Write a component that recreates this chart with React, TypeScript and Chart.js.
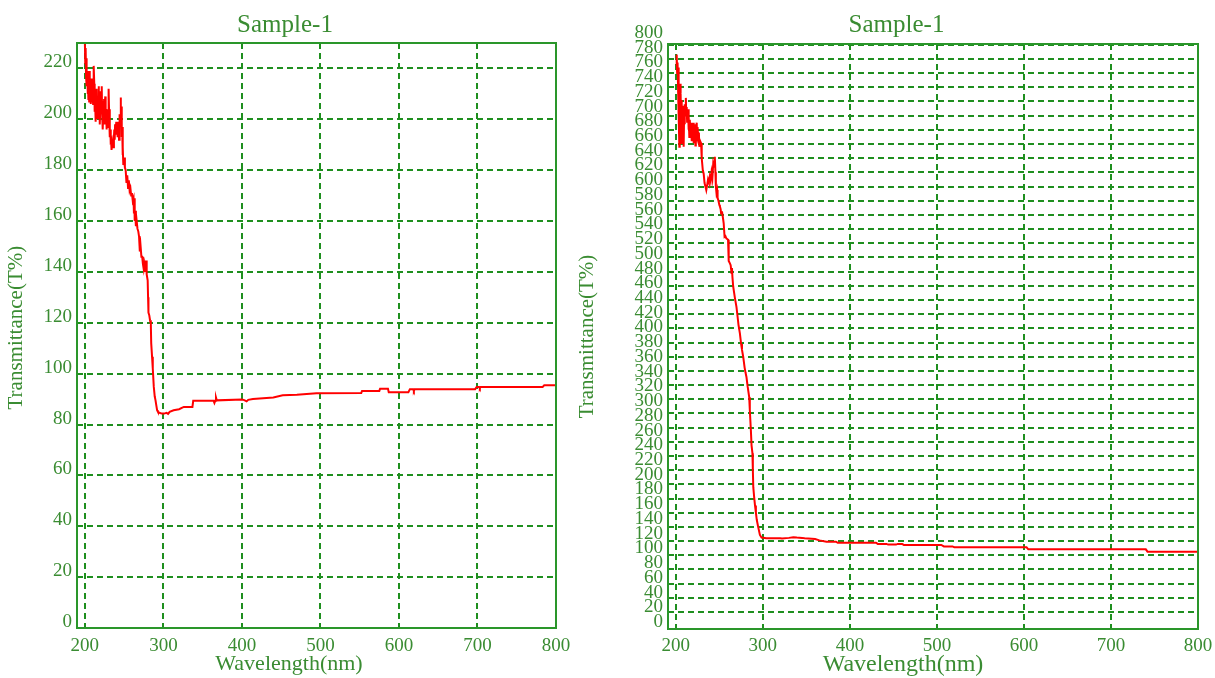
import { useEffect, useRef } from 'react';
import { Chart, registerables } from 'chart.js';

Chart.register(...registerables);

const FONT = 'Liberation Serif';
const GRID = '#1f8f1f';
const FRAME = '#2a962a';
const TEXT = '#3a8c32';
const RED = '#ff0000';

const titleText = 'Sample-1';
const xTitle = 'Wavelength(nm)';
const yTitle = 'Transmittance(T%)';

const xTicks = [200, 300, 400, 500, 600, 700, 800];
const leftYTicks = [0, 20, 40, 60, 80, 100, 120, 140, 160, 180, 200, 220];
const rightYTicks = [
  0, 20, 40, 60, 80, 100, 120, 140, 160, 180, 200, 220, 240, 260, 280, 300, 320, 340, 360, 380,
  400, 420, 440, 460, 480, 500, 520, 540, 560, 580, 600, 620, 640, 660, 680, 700, 720, 740, 760,
  780, 800,
];

const leftWavelength = [
  200, 200.5, 201, 201.5, 202, 202.5, 203, 203.5, 204, 204.5, 205, 205.5, 206, 206.5, 207, 207.5,
  208, 208.5, 209, 209.5, 210, 210.5, 211, 211.5, 212, 212.5, 213, 213.5, 214, 214.5, 215, 215.5,
  216, 216.5, 217, 217.5, 218, 218.5, 219, 219.5, 220, 220.5, 221, 221.5, 222, 222.5, 223, 223.5,
  224, 224.5, 225, 225.5, 226, 226.5, 227, 227.5, 228, 228.5, 229, 229.5, 230, 230.5, 231, 231.5,
  232, 232.5, 233, 233.5, 234, 235, 236, 237, 237.5, 238, 238.5, 239, 240, 240.5, 241, 241.5, 242,
  242.5, 243, 243.5, 244, 244.5, 245, 245.6, 246, 246.5, 247, 247.5, 248, 248.5, 249, 250, 251, 252,
  253, 254, 255, 256, 257, 258, 259, 260, 261, 262, 262.5, 263, 263.5, 264, 265, 266, 267, 268, 269,
  270, 271, 272, 273, 274, 275, 276, 277, 278, 278.5, 279, 280, 280.5, 281, 282, 283, 284, 284.5,
  285.6, 286.5, 287.8, 289, 290, 291, 292, 293, 295, 298, 301, 304, 306, 308, 313, 320, 326, 337,
  338, 364, 365, 366, 367, 368, 400, 403, 406, 408, 414, 440, 452, 470, 495, 552, 553, 575, 576, 586,
  587, 612, 614, 618, 619, 620, 697, 699, 702, 703, 704, 783, 785, 800,
];
const leftT = [
  231, 222, 228, 217, 224, 213, 219, 210, 216, 208, 214, 207, 219, 211, 215, 206,
  212, 209, 216, 207, 213, 206, 210, 221, 214, 203, 208, 199, 206, 201, 212, 204,
  209, 200, 207, 213, 204, 208, 198, 203, 211, 205, 210, 213, 202, 207, 196, 204,
  200, 208, 198, 205, 209, 200, 204, 196, 201, 197, 203, 198, 205, 212, 201, 204,
  193, 196, 190, 191, 188, 191, 189, 193, 196, 192, 198, 194, 199, 195, 197, 193, 198,
  196, 199, 192, 196, 202, 199, 208.6, 200, 205, 193, 197, 186, 189, 182, 185, 181, 180,
  175, 178, 173, 176, 172, 173, 170, 171, 168, 169, 163, 169, 160, 164, 158, 160, 157, 156, 154,
  148, 150, 146, 146, 143, 141, 143, 140, 144.5, 139, 139, 136.7, 130, 124, 123, 121, 119.6, 112,
  106.6, 102, 94.8, 91, 89.5, 87.5, 85.6, 85, 84.6, 84.3, 84.3, 84.6, 84.2, 85, 85.6, 86, 86.9, 86.9,
  89.3, 89.3, 88.5, 89.3, 90.6, 89.5, 89.8, 89.6, 89.1, 89.7, 90, 90.6, 91.5, 91.7, 92.3, 92.4, 93.2, 93.2, 94.1, 94.1,
  92.7, 92.7, 93.9, 93.9, 93.2, 93.9, 93.9, 94.8, 94.8, 94.2, 94.8, 94.8, 95.4, 95.4,
];

const rightWavelength = [
  200.5, 201, 201.5, 202, 202.5, 203, 203.5, 204, 204.5, 205, 205.5, 206, 206.5, 207, 207.5, 208,
  208.5, 209, 209.5, 210, 210.5, 211, 211.5, 212, 212.5, 213, 214, 214.5, 215, 215.5, 216, 217,
  217.5, 218, 218.5, 219, 220, 220.5, 221, 221.5, 222, 222.5, 223, 224, 224.5, 225, 226, 226.5,
  227, 228, 229, 229.5, 230, 231, 232, 233, 234, 235, 236, 237, 238, 239, 240, 241, 242, 243, 244,
  244.8, 245.5, 246, 246.7, 247.5, 248, 249, 250, 250.6, 251.5, 252, 253, 254, 255, 256, 257, 258,
  259, 260, 260.5, 261, 262, 263, 264, 264.5, 265, 265.9, 267, 268, 269.7, 271, 272, 273.6, 275,
  276, 277.4, 279, 280, 281.2, 282.5, 284.3, 285, 286.2, 287, 288, 288.5, 289, 290, 291, 292, 293,
  294.6, 296.6, 298.5, 304, 308, 320, 322, 330, 335, 339, 345, 348, 360, 365, 373, 384, 386, 392,
  430, 432, 442, 444, 453, 455, 460, 462, 505, 508, 518, 520, 603, 605, 700, 740, 742, 800,
];
const rightT = [
  770, 786, 760, 775, 742, 768, 700, 656, 735, 745, 731, 690, 722, 660, 700, 672,
  714, 656, 700, 688, 716, 705, 725, 700, 712, 690, 709, 680, 698, 670, 694, 676,
  690, 664, 685, 670, 690, 661, 683, 668, 688, 658, 680, 690, 665, 684, 662, 676,
  656, 664, 661, 650, 640, 623, 618, 605, 600, 595, 602, 610, 606, 614, 608, 620, 612, 633, 628,
  642, 620, 600, 591, 595, 584, 580, 574, 572, 568, 562, 565, 557, 548, 529, 530, 527,
  526, 525, 511, 495, 492, 489, 478, 485, 473, 459, 450, 442, 430, 416, 405, 393, 378,
  370, 360, 345, 338, 331, 318, 303, 285, 257, 235, 224, 200, 176, 162, 150, 140, 130,
  120, 108.6, 105, 104, 104, 104, 103.5, 104.5, 105.5, 105, 104.5, 104, 103, 101, 99.2, 99.2, 97.6, 97.6,
  97.6, 96, 96, 95, 95, 96, 96, 94.5, 94.5, 92.5, 92.5, 91.2, 91.2, 88.4, 88.4, 88.4, 85, 85,
];

const framePlugin = {
  id: 'frame',
  afterDatasetsDraw(chart: any) {
    const { ctx, chartArea: a } = chart;
    ctx.save();
    ctx.strokeStyle = FRAME;
    ctx.lineWidth = 2;
    ctx.strokeRect(a.left, a.top, a.right - a.left, a.bottom - a.top);
    ctx.restore();
  },
};

const fixWidth = (w: number) => (s: any) => {
  s.width = w;
  s.paddingTop = 0;
  s.paddingBottom = 0;
};
const fixHeight = (h: number) => (s: any) => {
  s.height = h;
  s.paddingLeft = 0;
  s.paddingRight = 0;
};
const setTicks = (vals: number[]) => (s: any) => {
  s.ticks = vals.map((v) => ({ value: v }));
};

const tickFont = { family: FONT, size: 19 };
const gridOpts = { color: GRID, lineWidth: 2, drawTicks: false };
const dashOpts = { display: false, dash: [6, 4] };

function points(xs: number[], ys: number[]) {
  return xs.map((x, i) => ({ x, y: ys[i] }));
}

function lineDataset(xs: number[], ys: number[]) {
  return {
    data: points(xs, ys),
    borderColor: RED,
    borderWidth: 2,
    pointRadius: 0,
    tension: 0,
    fill: false,
  };
}

function leftConfig(): any {
  return {
    type: 'line',
    data: { datasets: [lineDataset(leftWavelength, leftT)] },
    options: {
      animation: false,
      responsive: false,
      events: [],
      layout: { padding: { left: 16, right: 16, top: 0, bottom: 0 } },
      plugins: {
        legend: { display: false },
        tooltip: { enabled: false },
        title: {
          display: true,
          text: titleText,
          color: TEXT,
          font: { family: FONT, size: 25, weight: 'normal' },
          padding: { top: 10, bottom: 3 },
        },
      },
      scales: {
        x: {
          type: 'linear',
          min: 190,
          max: 800,
          afterBuildTicks: setTicks(xTicks),
          afterFit: fixHeight(50),
          grid: gridOpts,
          border: dashOpts,
          ticks: { color: TEXT, font: tickFont, padding: 7, maxRotation: 0, autoSkip: false },
          title: {
            display: true,
            text: xTitle + '          ',
            color: TEXT,
            font: { family: FONT, size: 22, lineHeight: 1 },
            padding: { top: 0, bottom: 3 },
          },
        },
        y: {
          type: 'linear',
          min: 0,
          max: 230,
          afterBuildTicks: setTicks(leftYTicks),
          afterFit: fixWidth(63),
          grid: gridOpts,
          border: dashOpts,
          ticks: { color: TEXT, font: tickFont, padding: 5, labelOffset: -6, autoSkip: false },
          title: {
            display: true,
            text: '   ' + yTitle,
            color: TEXT,
            font: { family: FONT, size: 21, lineHeight: 1 },
            padding: { top: -8.5, bottom: 0 },
          },
        },
      },
    },
    plugins: [framePlugin],
  };
}

function rightConfig(): any {
  return {
    type: 'line',
    data: { datasets: [lineDataset(rightWavelength, rightT)] },
    options: {
      animation: false,
      responsive: false,
      events: [],
      layout: { padding: { left: 35, right: 35, top: 0, bottom: 0 } },
      plugins: {
        legend: { display: false },
        tooltip: { enabled: false },
        title: {
          display: true,
          text: titleText,
          color: TEXT,
          font: { family: FONT, size: 25, weight: 'normal' },
          padding: { top: 10, bottom: 4 },
        },
      },
      scales: {
        x: {
          type: 'linear',
          min: 191,
          max: 800,
          afterBuildTicks: setTicks(xTicks),
          afterFit: fixHeight(49),
          grid: gridOpts,
          border: dashOpts,
          ticks: { color: TEXT, font: tickFont, padding: 6, maxRotation: 0, autoSkip: false },
          title: {
            display: true,
            text: xTitle + '          ',
            color: TEXT,
            font: { family: FONT, size: 24, lineHeight: 1 },
            padding: { top: 0, bottom: 1 },
          },
        },
        y: {
          type: 'linear',
          position: 'left',
          min: -24,
          max: 801,
          afterBuildTicks: setTicks(rightYTicks),
          afterFit: fixWidth(0),
          grid: gridOpts,
          border: dashOpts,
          ticks: { display: false, autoSkip: false },
        },
        yLabels: {
          type: 'linear',
          position: 'left',
          min: -9.5,
          max: 785,
          afterBuildTicks: setTicks(rightYTicks),
          afterFit: fixWidth(73),
          grid: { display: false, drawTicks: false },
          border: { display: false },
          ticks: { color: TEXT, font: tickFont, padding: 5, autoSkip: false },
          title: {
            display: true,
            text: yTitle,
            color: TEXT,
            font: { family: FONT, size: 21, lineHeight: 1 },
            padding: { top: -18.5, bottom: 0 },
          },
        },
      },
    },
    plugins: [framePlugin],
  };
}

function ChartCanvas({ left, width, config }: { left: number; width: number; config: () => any }) {
  const ref = useRef<HTMLCanvasElement | null>(null);
  useEffect(() => {
    if (!ref.current) return;
    const chart = new Chart(ref.current, config());
    return () => chart.destroy();
  }, [config]);
  return (
    <canvas
      ref={ref}
      width={width}
      height={678}
      style={{ position: 'absolute', left, top: 0, width, height: 678, display: 'block' }}
    />
  );
}

export default function App() {
  return (
    <div
      style={{
        position: 'fixed',
        left: 0,
        top: 0,
        width: 1215,
        height: 678,
        overflow: 'hidden',
        background: '#ffffff',
      }}
    >
      <ChartCanvas left={-2} width={574} config={leftConfig} />
      <ChartCanvas left={560} width={673} config={rightConfig} />
    </div>
  );
}
